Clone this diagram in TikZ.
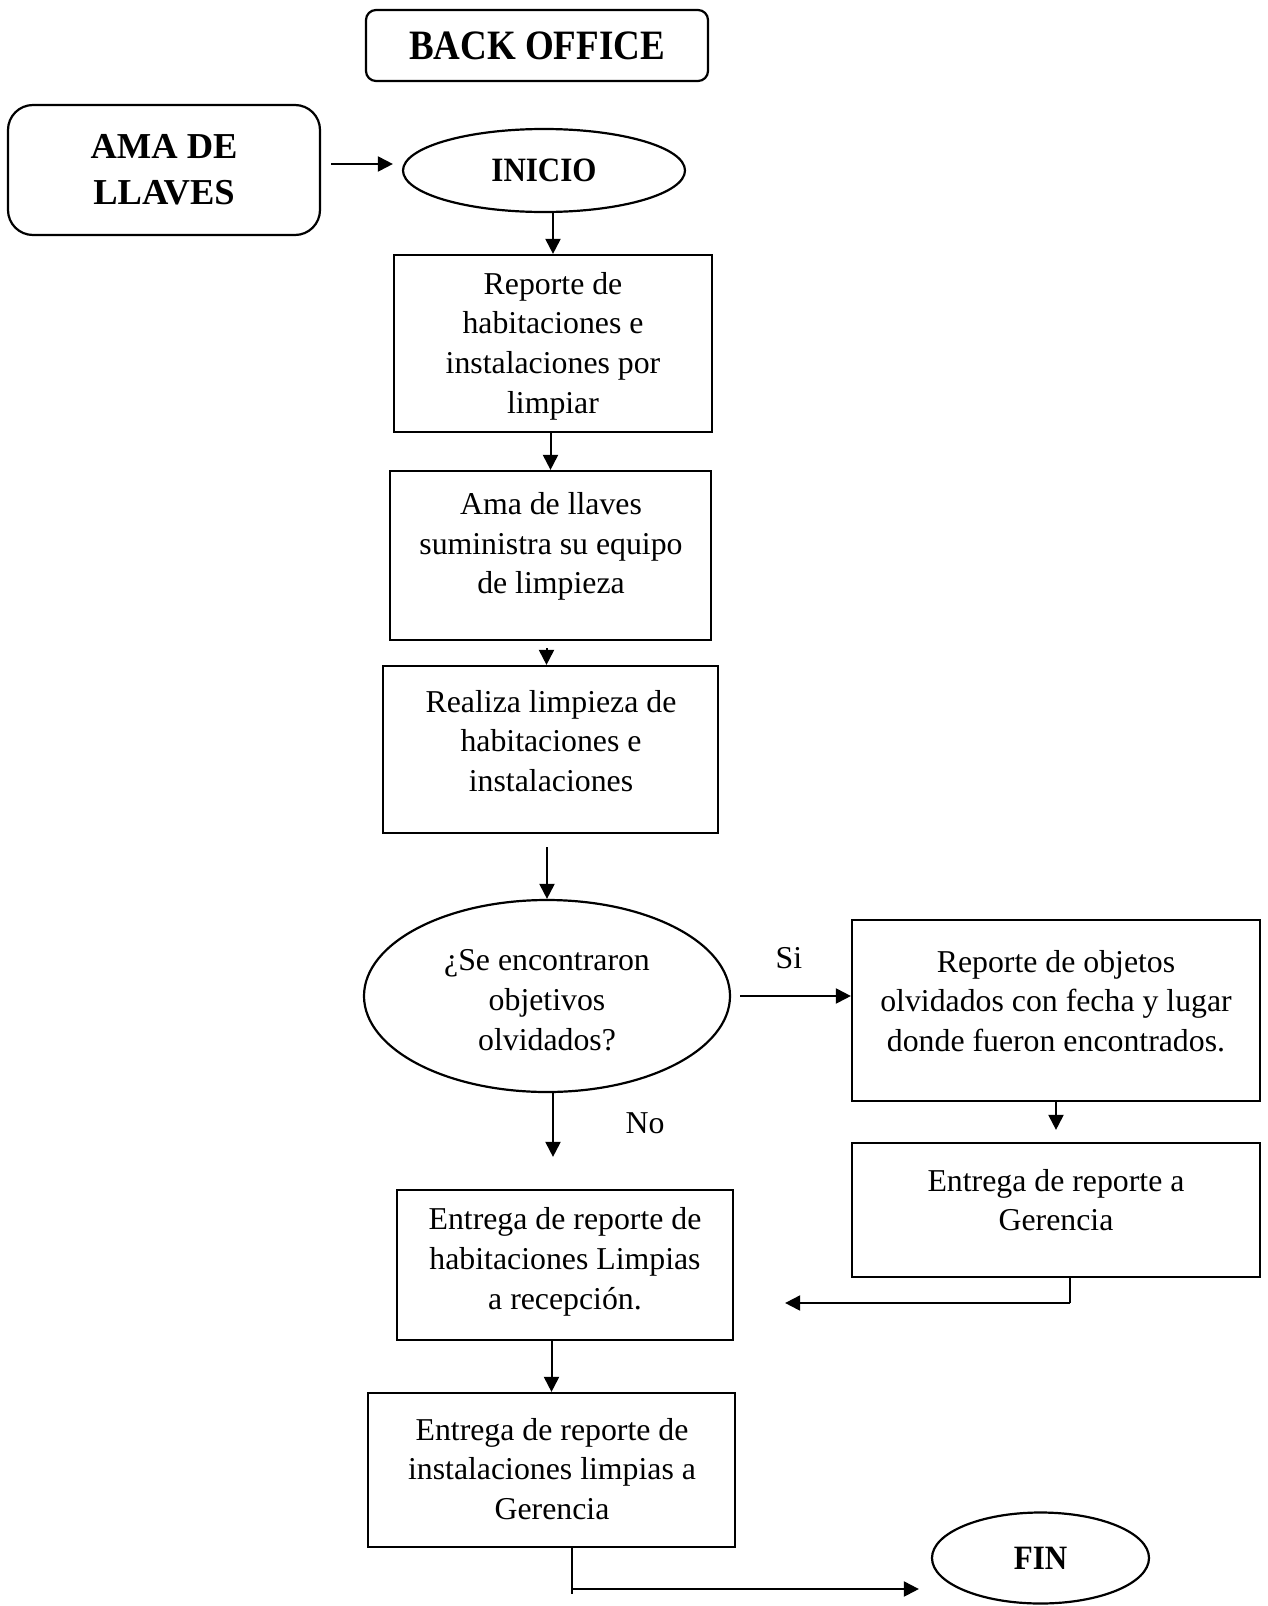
\documentclass[tikz,border=0pt]{standalone}
\usepackage{fontspec}
\setmainfont{Liberation Serif}
\usetikzlibrary{shapes.geometric,arrows.meta}
\begin{document}
\begin{tikzpicture}[x=1pt,y=-1pt,
  box/.style={draw,line width=2.2pt,inner sep=0pt},
  oval/.style={draw,ellipse,line width=2.2pt,inner sep=0pt},
  body/.style={align=center,inner sep=0pt,font=\fontsize{31.8}{39.7}\selectfont},
  arr/.style={line width=2pt,-{Triangle[length=15pt,width=15pt]}},
  thinline/.style={line width=1.1pt},
]
\useasboundingbox (0,0) rectangle (1267,1606);

% header boxes
\node[box,rounded corners=10pt,minimum width=342pt,minimum height=71pt,
      font=\bfseries\fontsize{37}{44}\selectfont] (bo) at (537,45.5) {\scalebox{1}[1.13]{BACK OFFICE}};
\node[box,rounded corners=25pt,minimum width=312pt,minimum height=130pt,align=center,
      font=\bfseries\fontsize{36.5}{46}\selectfont] (ama) at (164,170) {AMA DE\\LLAVES};
\node[oval,minimum width=282pt,minimum height=83pt,
      font=\bfseries\fontsize{31}{37}\selectfont] (ini) at (544,170.5) {\scalebox{1}[1.1]{INICIO}};

% main column
\node[box,minimum width=318pt,minimum height=177pt] (b1) at (553,343.5) {};
\node[body] (t1) at (553,346) {Reporte de\\habitaciones e\\instalaciones por\\limpiar};

\node[box,minimum width=321pt,minimum height=169pt] (b2) at (550.5,555.5) {};
\node[body] (t2) at (551,546.5) {Ama de llaves\\suministra su equipo\\de limpieza};

\node[box,minimum width=335pt,minimum height=167pt] (b3) at (550.5,749.5) {};
\node[body] (t3) at (551,741) {Realiza limpieza de\\habitaciones e\\instalaciones};

\node[oval,minimum width=366pt,minimum height=192pt] (dec) at (547,996) {};
\node[body] (tdec) at (547,1000) {¿Se encontraron\\objetivos\\olvidados?};

% right column
\node[box,minimum width=408pt,minimum height=181pt] (r1) at (1056,1010.5) {};
\node[body] (tr1) at (1056,1001) {Reporte de objetos\\olvidados con fecha y lugar\\donde fueron encontrados.};

\node[box,minimum width=408pt,minimum height=134pt] (r2) at (1056,1210) {};
\node[body] (tr2) at (1056,1200) {Entrega de reporte a\\Gerencia};

% lower column
\node[box,minimum width=336pt,minimum height=150pt] (l1) at (565,1265) {};
\node[body] (tl1) at (565,1262) {Entrega de reporte de\\habitaciones Limpias\\a recepción.};

\node[box,minimum width=367pt,minimum height=154pt] (l2) at (551.5,1470) {};
\node[body] (tl2) at (552,1469) {Entrega de reporte de\\instalaciones limpias a\\Gerencia};

\node[oval,minimum width=217pt,minimum height=91pt,
      font=\bfseries\fontsize{31}{37}\selectfont] (fin) at (1040.5,1558) {\scalebox{1}[1.1]{FIN}};

% labels
\node[body] (si) at (789,958) {Si};
\node[body] (no) at (645,1123) {No};

% connectors
\draw[arr,shorten <=10pt,shorten >=9pt] ([yshift=6pt]ama.east) -- ([yshift=6pt]ama.east -| ini.west);
\draw[arr] (b1.north |- ini.south) -- (b1.north);
\draw[arr] (b2.north |- b1.south) -- (b2.north);
\draw[arr,shorten <=7pt] ([xshift=-4pt]b3.north |- b2.south) -- ([xshift=-4pt]b3.north);
\draw[arr,shorten <=13pt] (dec.north |- b3.south) -- (dec.north);
\draw[arr,shorten <=9pt] (dec.east) -- (dec.east -| r1.west);
\draw[arr,shorten >=12pt] (r1.south) -- (r2.north);
\coordinate (k1) at (1070,1303);
\draw[thinline] (k1 |- r2.south) -- (k1);
\draw[arr,shorten >=51pt] (k1) -- (k1 -| l1.east);
\draw[arr,shorten >=32pt] ([xshift=6pt]dec.south) -- ([xshift=6pt]dec.south |- l1.north);
\draw[arr] (l2.north |- l1.south) -- (l2.north);
\coordinate (k2) at (572,1589);
\draw[thinline] (k2 |- l2.south) -- ([yshift=-5pt]k2);
\draw[arr,shorten >=12pt] (k2) -- (k2 -| fin.west);
\end{tikzpicture}
\end{document}
